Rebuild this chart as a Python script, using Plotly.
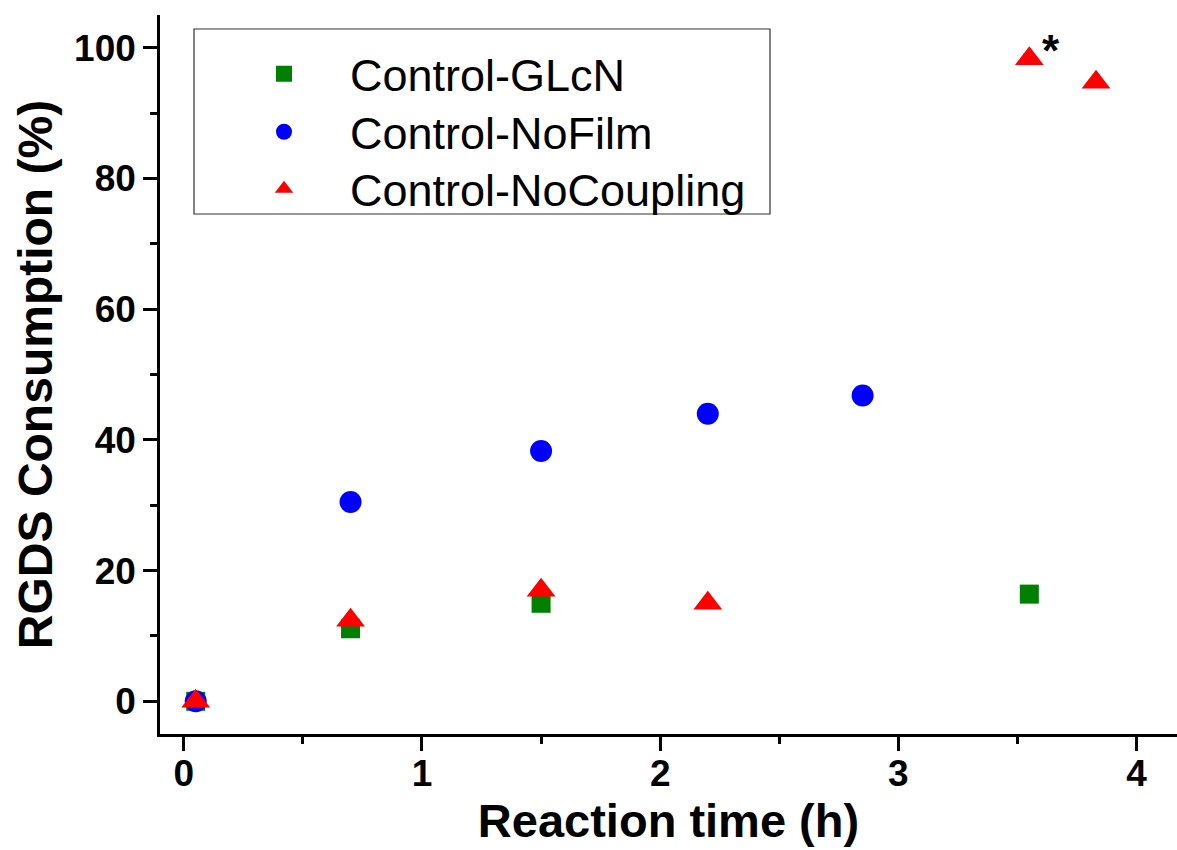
import plotly.graph_objects as go

# Data
glcn_x = [0.05, 0.7, 1.5, 3.55]
glcn_y = [0.0, 11.1, 15.0, 16.4]

nofilm_x = [0.05, 0.7, 1.5, 2.2, 2.85]
nofilm_y = [0.0, 30.5, 38.3, 44.0, 46.8]

nocoup_x = [0.05, 0.7, 1.5, 2.2, 3.55, 3.83]
nocoup_y = [0.0, 12.4, 17.0, 15.0, 98.3, 94.7]

series_names = ["Control-GLcN", "Control-NoFilm", "Control-NoCoupling"]
x_ticks = [0, 1, 2, 3, 4]
y_ticks = [0, 20, 40, 60, 80, 100]

star_x = [3.64]
star_y = [99.6]

FONT = "Liberation Sans, Arial, sans-serif"
W, H = 1177, 850
ML, MR, MT, MB = 160, 0, 15, 116
PW, PH = W - ML - MR, H - MT - MB


def px_x(p):
    return (p - ML) / PW


def px_y(p):
    return (H - MB - p) / PH


fig = go.Figure()
fig.add_trace(go.Scatter(x=glcn_x, y=glcn_y, mode="markers", name=series_names[0],
                         legend="legend",
                         marker=dict(symbol="square", size=19, color="#008000")))
fig.add_trace(go.Scatter(x=nofilm_x, y=nofilm_y, mode="markers", name=series_names[1],
                         legend="legend2",
                         marker=dict(symbol="circle", size=22, color="#0000FF")))
fig.add_trace(go.Scatter(x=nocoup_x, y=nocoup_y, mode="markers", name=series_names[2],
                         legend="legend3",
                         marker=dict(symbol="triangle-up", size=25, color="#FF0000")))

fig.add_annotation(x=star_x[0], y=star_y[0], text="<b>*</b>", showarrow=False,
                   font=dict(family=FONT, size=44, color="black"),
                   xanchor="center", yanchor="middle")

# Legend frame
fig.add_shape(type="rect", xref="paper", yref="paper",
              x0=px_x(194), x1=px_x(770), y0=px_y(214), y1=px_y(29),
              line=dict(color="#333333", width=1.2), fillcolor="rgba(0,0,0,0)", layer="above")

axis_common = dict(
    showline=True, linecolor="black", linewidth=2.5, mirror=False,
    showgrid=False, zeroline=False, automargin=False,
    ticks="outside", ticklen=14, tickwidth=2.5, tickcolor="black",
    tickfont=dict(family=FONT, size=37, color="black", weight="bold"),
)

fig.update_xaxes(range=[-0.1, 4.17], tickvals=x_ticks, ticktext=[str(v) for v in x_ticks],
                 ticklabelstandoff=-9,
                 minor=dict(dtick=0.5, tick0=0, ticklen=7, tickwidth=2.5, tickcolor="black", ticks="outside"),
                 title=dict(text="Reaction time (h)", standoff=5,
                            font=dict(family=FONT, size=47, color="black", weight="bold")),
                 **axis_common)
fig.update_yaxes(range=[-5, 105], tickvals=y_ticks, ticktext=[str(v) for v in y_ticks],
                 ticklabelstandoff=0,
                 minor=dict(dtick=10, tick0=0, ticklen=7, tickwidth=2.5, tickcolor="black", ticks="outside"),
                 title=dict(text="RGDS Consumption (%)", standoff=7,
                            font=dict(family=FONT, size=48, color="black", weight="bold")),
                 **axis_common)

legend_common = dict(xanchor="left", yanchor="middle", bgcolor="rgba(0,0,0,0)", borderwidth=0,
                     itemwidth=122, font=dict(family=FONT, size=45, color="black"))

fig.update_layout(
    width=W, height=H,
    margin=dict(l=ML, r=MR, t=MT, b=MB),
    paper_bgcolor="white", plot_bgcolor="white",
    showlegend=True,
    legend=dict(x=px_x(218), y=px_y(74), **legend_common),
    legend2=dict(x=px_x(218), y=px_y(132), **legend_common),
    legend3=dict(x=px_x(218), y=px_y(189), **legend_common),
)

fig.write_html("out.html")
